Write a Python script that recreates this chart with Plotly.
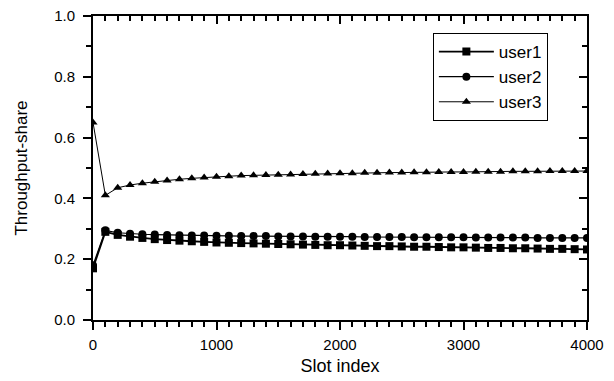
import plotly.graph_objects as go

slots = list(range(0, 4001, 100))
user1 = [0.17, 0.290, 0.280, 0.274, 0.270, 0.266, 0.263, 0.261, 0.259, 0.257,
         0.255, 0.254, 0.253, 0.252, 0.251, 0.250, 0.249, 0.248, 0.247, 0.246,
         0.246, 0.245, 0.244, 0.243, 0.243, 0.242, 0.241, 0.241, 0.240, 0.239,
         0.239, 0.238, 0.237, 0.237, 0.236, 0.236, 0.235, 0.234, 0.234, 0.233, 0.232]
user2 = [0.18, 0.295, 0.287, 0.284, 0.282, 0.281, 0.280, 0.279, 0.278, 0.278,
         0.277, 0.277, 0.276, 0.276, 0.276, 0.275, 0.275, 0.275, 0.274, 0.274,
         0.274, 0.274, 0.273, 0.273, 0.273, 0.273, 0.272, 0.272, 0.272, 0.272,
         0.272, 0.271, 0.271, 0.271, 0.271, 0.271, 0.270, 0.270, 0.270, 0.270, 0.270]
user3 = [0.65, 0.41, 0.435, 0.444, 0.450, 0.455, 0.459, 0.463, 0.466, 0.469,
         0.471, 0.473, 0.475, 0.476, 0.477, 0.478, 0.479, 0.480, 0.481, 0.482,
         0.483, 0.483, 0.484, 0.484, 0.485, 0.485, 0.486, 0.486, 0.487, 0.487,
         0.487, 0.488, 0.488, 0.488, 0.489, 0.489, 0.489, 0.490, 0.490, 0.490, 0.490]
names = ["user1", "user2", "user3"]
symbols = ["square", "circle", "triangle-up"]
x_range = [0, 4000]
y_range = [0, 1.0]

FONT = "Liberation Sans, Arial"

fig = go.Figure()
for i, (name, ys, sym, lw) in enumerate(zip(names, [user1, user2, user3], symbols, [1.8, 1.2, 1.0])):
    # last series is drawn on the overlaid (top/right) axes, which carry the mirrored inward ticks
    on_overlay = (i == len(names) - 1)
    fig.add_trace(go.Scatter(
        x=slots, y=ys, name=name, mode="lines+markers",
        line=dict(color="black", width=lw),
        marker=dict(symbol=sym, size=8, color="black"),
        xaxis="x2" if on_overlay else "x",
        yaxis="y2" if on_overlay else "y",
    ))

base = dict(showgrid=False, zeroline=False, automargin=False,
            tickcolor="#000000", tickwidth=2)

fig.update_layout(
    width=606, height=373,
    margin=dict(l=85, r=27, t=8, b=61),
    plot_bgcolor="white", paper_bgcolor="white",
    xaxis=dict(
        range=x_range, dtick=1000, tick0=0,
        showline=True, linecolor="black", linewidth=2, mirror=True,
        ticks="outside", ticklen=8, ticklabelstandoff=2, ticklabeloverflow="allow",
        tickfont=dict(family=FONT, size=15, color="black"),
        minor=dict(dtick=100, ticks="outside", ticklen=5, tickwidth=1.5, tickcolor="#000000", showgrid=False),
        title=dict(text="Slot index", font=dict(family=FONT, size=18, color="black"), standoff=7),
        **base,
    ),
    yaxis=dict(
        range=y_range, dtick=0.2, tick0=0, tickformat=".1f",
        showline=True, linecolor="black", linewidth=2, mirror=True,
        ticks="outside", ticklen=8, ticklabelstandoff=5, ticklabeloverflow="allow",
        tickfont=dict(family=FONT, size=15, color="black"),
        minor=dict(dtick=0.1, ticks="outside", ticklen=5, tickwidth=1.5, tickcolor="#000000", showgrid=False),
        title=dict(text="Throughput-share", font=dict(family=FONT, size=17, color="black"), standoff=22),
        **base,
    ),
    xaxis2=dict(
        range=x_range, dtick=1000, tick0=0, overlaying="x", side="top", anchor="y2",
        showline=False, ticks="inside", ticklen=8, showticklabels=False,
        minor=dict(dtick=100, ticks="inside", ticklen=5, tickwidth=1.5, tickcolor="#000000", showgrid=False),
        **base,
    ),
    yaxis2=dict(
        range=y_range, dtick=0.2, tick0=0, overlaying="y", side="right", anchor="x2",
        showline=False, ticks="inside", ticklen=8, showticklabels=False,
        minor=dict(dtick=0.1, ticks="inside", ticklen=5, tickwidth=1.5, tickcolor="#000000", showgrid=False),
        **base,
    ),
    legend=dict(x=0.688, y=0.944, xanchor="left", yanchor="top",
                bordercolor="black", borderwidth=1, bgcolor="white",
                font=dict(family=FONT, size=17, color="black"),
                itemwidth=55),
    showlegend=True,
)
fig.write_html("out.html")
